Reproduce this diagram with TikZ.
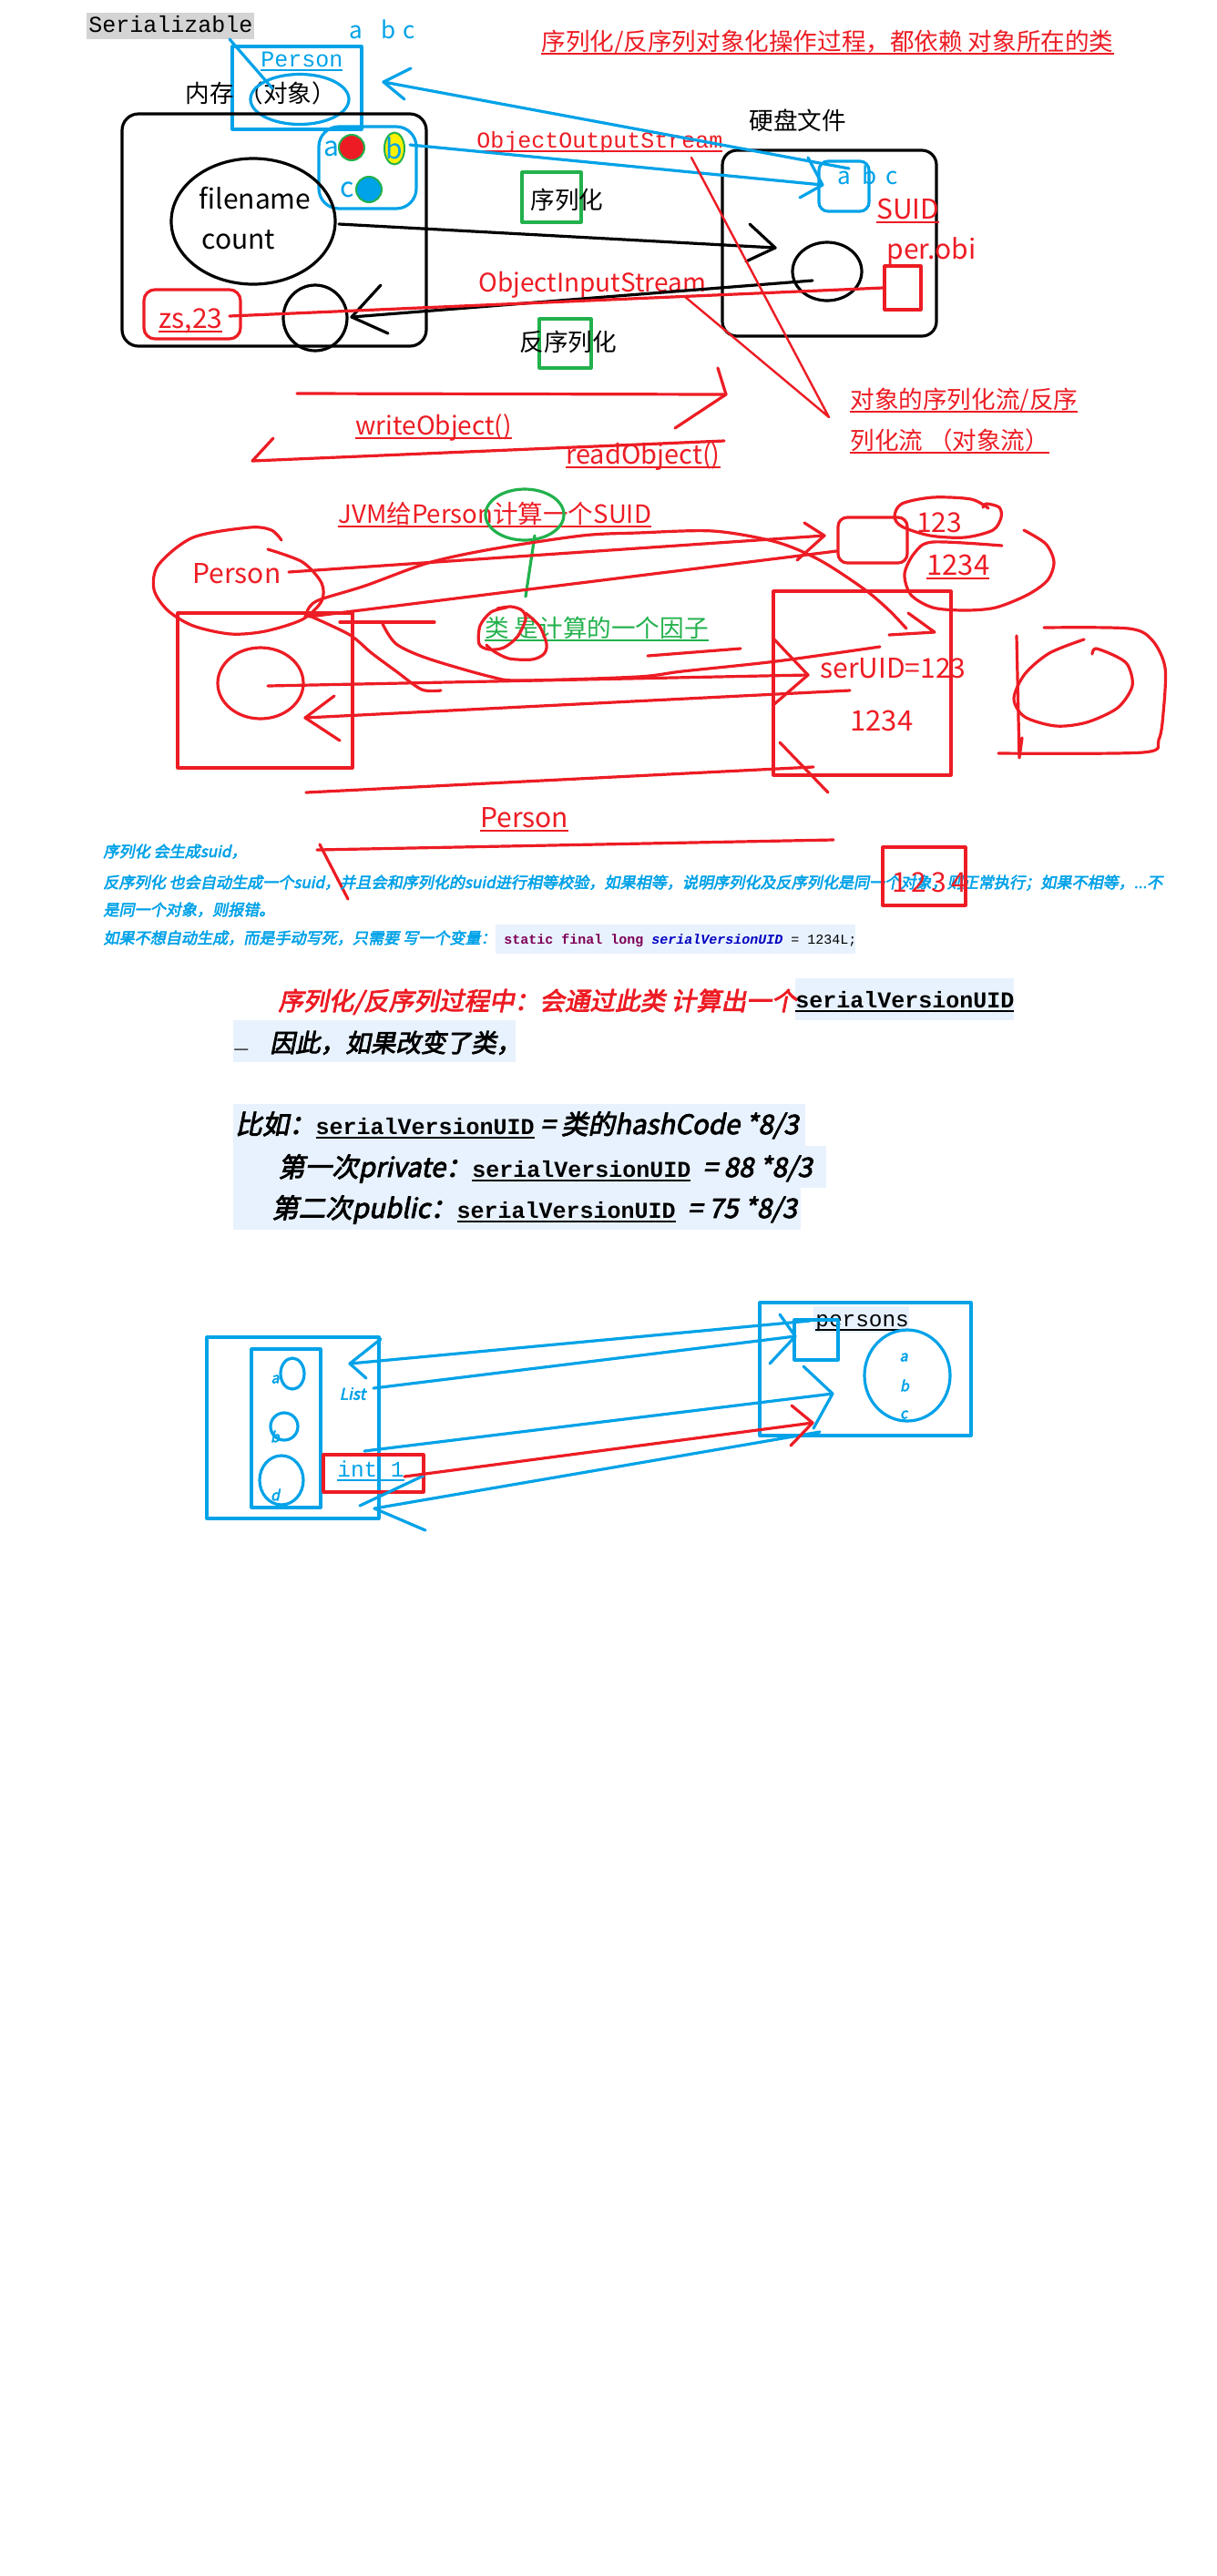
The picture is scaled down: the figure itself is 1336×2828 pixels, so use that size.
\documentclass[tikz,border=0pt]{standalone}
\usepackage{fontspec}
\setmainfont{Noto Sans CJK SC}[AutoFakeBold=3, AutoFakeSlant=0.2]
\setmonofont{Liberation Mono}
\definecolor{pred}{HTML}{ED1C24}
\definecolor{pblue}{HTML}{00A2E8}
\definecolor{pgreen}{HTML}{22B14C}
\definecolor{pyellow}{HTML}{FFF200}
\definecolor{hlblue}{HTML}{E8F2FE}
\definecolor{hlgray}{HTML}{D4D4D4}
\definecolor{kwpurple}{HTML}{7F0055}
\definecolor{fldblue}{HTML}{0000C0}
\newsavebox\ulbox
\newcommand\undl[1]{\sbox\ulbox{#1}\rlap{\rule[-2.5pt]{\wd\ulbox}{1.1pt}}\usebox\ulbox}
\newcommand\fs[1]{\fontsize{#1}{#1}\selectfont}
\newcommand\svuid{\undl{\ttfamily\upshape\fs{12.5}serialVersionUID}}

\begin{document}
\begin{tikzpicture}[x=0.5pt, y=-0.5pt, line cap=round, line join=round,
  pen/.style={line width=1.6pt},
  thinpen/.style={line width=1.2pt},
  sbox/.style={pen, inner sep=0pt},
  txt/.style={inner sep=0pt, anchor=base west},
  cjk/.style={font=\fs{13.3}},
  lat/.style={inner sep=0pt, font=\fs{15}},
  mono/.style={font=\ttfamily\fs{12.5}},
  note/.style={txt, text=pblue, font=\bfseries\itshape\fs{8.55}},
  big/.style={txt, font=\bfseries\itshape\fs{13.8}},
  eg/.style={txt, font=\bfseries\itshape\fs{14.7}},
  small/.style={inner sep=0pt, text=pblue, font=\bfseries\itshape\fs{8}}]
  \path[fill=white] (0,0) rectangle (1336,2828);
  \useasboundingbox (0,0) rectangle (1336,2828);

  % memory side
  \node[txt, mono, fill=hlgray, inner xsep=1pt, inner ysep=1pt, text height=9.5pt, text depth=3pt]
    (serial) at (95,35) {Serializable};
  \node[sbox, draw=pblue, minimum width=71pt, minimum height=45.5pt] (personbox) at (326,96.5) {};
  \node[txt, mono, text=pblue] (personlbl) at (286,73) {\undl{Person}};
  \node[txt, font=\fs{13}, text=pblue] (abctop) at (383,42) {a\hspace{10pt}b\hspace{4pt}c};
  \node[txt, cjk] (memlbl) at (203,112) {内存 （对象）};
  \draw[pen, pblue] (329,109) ellipse [x radius=54, y radius=27.5];
  \coordinate (serfoot) at (252,43);
  \coordinate (objin) at (299,97);
  \draw[pen, pblue] (serfoot) -- (objin);

  \node[sbox, draw, rounded corners=9pt, minimum width=167pt, minimum height=127.5pt] (mem) at (301,252.5) {};
  \node[sbox, draw=pblue, rounded corners=11pt, minimum width=53.5pt, minimum height=45pt] (fields) at (403.5,184) {};
  \node[lat, text=pblue] (fa) at (364,163) {a};
  \filldraw[line width=1pt, fill=pred, draw=pgreen] (386,162) circle [radius=14];
  \filldraw[line width=1pt, fill=pyellow, draw=pgreen] (433,163) ellipse [x radius=11, y radius=17.5];
  \node[lat, text=pblue] (fb) at (433,163) {b};
  \node[lat, text=pblue] (fc) at (381,208) {c};
  \filldraw[line width=1pt, fill=pblue, draw=pgreen] (405,208) circle [radius=14];

  \draw[pen] (278,243) ellipse [x radius=90, y radius=69];
  \node[lat] (fname) at (280,218) {filename};
  \node[lat] (fcount) at (262,263) {count};
  \node[sbox, draw=pred, rounded corners=6pt, minimum width=53pt, minimum height=27pt] (zsbox) at (211,345) {};
  \node[txt, font=\fs{15}, text=pred] (zslbl) at (174,360) {\undl{zs,23}};
  \draw[pen] (346,349) ellipse [x radius=35, y radius=36];

  % streams
  \node[txt, cjk, text=pred] (title) at (594,55) {\undl{序列化/反序列对象化操作过程，都依赖 对象所在的类}};
  \node[txt, mono, text=pred] (oos) at (523,162) {\undl{ObjectOutputStream}};
  \node[sbox, draw=pgreen, minimum width=32.5pt, minimum height=27.5pt] (serbox) at (605.5,216.5) {};
  \node[txt, cjk] (serlbl) at (582,229) {序列化};
  \node[txt, font=\fs{14}, text=pred] (ois) at (525,320) {ObjectInputStream};
  \node[sbox, draw=pgreen, minimum width=28.5pt, minimum height=27pt] (deserbox) at (620.5,377) {};
  \node[txt, cjk] (deserlbl) at (570,385) {反序列化};

  % disk side
  \node[txt, cjk] (disklbl) at (822,142) {硬盘文件};
  \node[sbox, draw, rounded corners=8pt, minimum width=117.5pt, minimum height=102pt] (disk) at (910.5,267) {};
  \node[sbox, draw=pblue, rounded corners=5pt, minimum width=27.5pt, minimum height=27.5pt] (suidbox) at (926.5,204.5) {};
  \node[txt, font=\fs{13}, text=pblue] (abcdisk) at (919,202) {a\hspace{6pt}b\hspace{5pt}c};
  \node[txt, font=\fs{15}, text=pred] (suidlbl) at (962,240) {\undl{SUID}};
  \draw[pen] (908,298) ellipse [x radius=38, y radius=32];
  \node[txt, font=\fs{15}, text=pred] (perobi) at (973,284) {per.obi};
  \node[sbox, draw=pred, minimum width=20pt, minimum height=24pt] (fileobj) at (991,316) {};

  \coordinate (bout) at (450,159);
  \coordinate (bin) at (903,203);
  \draw[pen, pblue] (bout) -- (bin);
  \draw[pen, pblue] (887,173) -- (bin) -- (878,217);
  \coordinate (abcout) at (932,185);
  \coordinate (personin) at (421,90);
  \draw[pen, pblue] (abcout) -- (personin);
  \draw[pen, pblue] (451,75) -- (personin) -- (444,109);
  \coordinate (fnout) at (372,246);
  \coordinate (diskin) at (851,272);
  \draw[pen] (fnout) -- (diskin);
  \draw[pen] (823,246) -- (diskin) -- (819,287);
  \coordinate (diskout) at (892,308);
  \coordinate (objback) at (386,348);
  \draw[pen] (diskout) -- (objback);
  \draw[pen] (418,313) -- (objback) -- (426,366);
  \coordinate (zsout) at (252,347);
  \draw[pen, pred] (zsout) -- (fileobj.west);

  \coordinate (notetip) at (910,458);
  \draw[thinpen, pred] (759,173) -- (notetip) -- (751,325);
  \node[txt, cjk, text=pred] (note1) at (933,448) {\undl{对象的序列化流/反序}};
  \node[txt, cjk, text=pred] (note2) at (933,493) {\undl{列化流 （对象流）}};

  \coordinate (wstart) at (326,432);
  \coordinate (wend) at (797,433);
  \draw[pen, pred] (wstart) -- (wend);
  \draw[pen, pred] (788,404) -- (wend) -- (741,470);
  \node[txt, font=\fs{14}, text=pred] (wobj) at (390,477) {\undl{writeObject()}};
  \coordinate (rstart) at (795,484);
  \coordinate (rend) at (277,506);
  \draw[pen, pred] (rstart) -- (rend) -- (300,481);
  \node[txt, font=\fs{14.5}, text=pred] (robj) at (621,509) {\undl{readObject()}};

  % suid computed from the class
  \node[txt, font=\fs{13.8}, text=pred] (jvm) at (371,574) {\undl{JVM给Person计算一个SUID}};
  \draw[pen, pgreen] (576,565) ellipse [x radius=43, y radius=28];
  \coordinate (factout) at (587,588);
  \coordinate (factin) at (577,655);
  \draw[pen, pgreen] (factout) -- (factin);
  \node[txt, cjk, text=pgreen] (factor) at (532,699) {\undl{类 是计算的一个因子}};
  \draw[pen, pred] plot[smooth] coordinates {(556,667) (539,672) (527,687) (526,707) (537,713)
    (553,711) (568,699) (577,680) (573,670) (561,666) (546,668)};
  \draw[pen, pred] plot[smooth] coordinates {(577,673) (592,687) (600,707) (597,718) (584,724)
    (559,723) (542,715) (534,708)};

  \draw[pen, pred] plot[smooth] coordinates {(309,593) (298,582) (274,579) (212,590) (174,620)
    (169,647) (184,670) (212,687) (253,696) (291,693) (332,680) (353,660) (353,640) (332,617) (294,603)};
  \node[lat, text=pred] (clsname) at (260,630) {Person};
  \node[sbox, draw=pred, minimum width=96pt, minimum height=85pt] (personsq) at (291,758) {};
  \draw[pen, pred] (286,750) ellipse [x radius=47, y radius=39];

  \node[sbox, draw=pred, rounded corners=5pt, minimum width=38pt, minimum height=25pt] (uidtmp) at (958,593) {};
  \draw[pen, pred] plot[smooth] coordinates {(1085,558) (1066,548) (1024,546) (990,553) (982,567)
    (990,578) (1021,588) (1059,590) (1090,582) (1099,568) (1097,557) (1083,553) (1079,557)};
  \node[lat, text=pred] (uid123) at (1031,574) {123};
  \draw[pen, pred] plot[smooth] coordinates {(1100,599) (1024,595) (1004,607) (993,630) (1000,653)
    (1024,667) (1059,670) (1093,667) (1128,653) (1150,637) (1157,617) (1148,597) (1124,582)};
  \node[txt, font=\fs{15.5}, text=pred] (uid1234) at (1017,631) {\undl{1234}};
  \node[sbox, draw=pred, minimum width=97.5pt, minimum height=101pt] (classbox) at (946.5,750) {};
  \node[txt, font=\fs{15}, text=pred] (seruid) at (900,744) {serUID=123};
  \node[txt, font=\fs{15.5}, text=pred] (newuid) at (933,802) {1234};

  \coordinate (ain) at (905,588);
  \draw[pen, pred] (317,628) -- (ain);
  \draw[pen, pred] (883,574) -- (ain) -- (875,615);
  \draw[pen, pred] plot[smooth] coordinates {(335,677) (340,666) (352,658) (401,643) (470,618)
    (539,603) (639,588) (700,585) (783,583) (852,595) (900,615) (949,647) (976,670) (995,690)};
  \draw[pen, pred] (976,697) -- (1026,694) -- (997,673);
  \draw[pen, pred] (339,677) -- (uidtmp.west |- 0,605);
  \draw[pen, pred] (373,683) -- (477,683);
  \draw[pen, pred] plot[smooth] coordinates {(342,677) (384,697) (408,717) (435,737) (463,757) (484,758)};
  \draw[pen, pred] plot[smooth] coordinates {(420,685) (435,707) (470,723) (539,743) (573,747)
    (700,743) (749,737) (852,726) (966,710)};
  \coordinate (din) at (887,741);
  \draw[pen, pred] (294,753) -- (din);
  \draw[pen, pred] (850,702) -- (din) -- (850,773);
  \coordinate (eout) at (933,758);
  \coordinate (ein) at (335,788);
  \draw[pen, pred] (eout) -- (ein);
  \draw[pen, pred] (367,764) -- (ein) -- (373,813);
  \draw[pen, pred] (711,720) -- (813,712);
  \draw[pen, pred] (336,870) -- (893,842);
  \draw[pen, pred] (856,815) -- (909,870);

  \draw[pen, pred] plot[smooth] coordinates {(1146,689) (1239,690) (1265,703) (1279,733) (1277,783)
    (1272,812) (1255,826) (1096,827)};
  \draw[pen, pred] (1116,698) -- (1119,832) -- (1122,810);
  \draw[pen, pred] plot[smooth] coordinates {(1190,702) (1152,717) (1125,740) (1113,767) (1125,787)
    (1159,797) (1193,793) (1227,777) (1243,753) (1238,730) (1224,720) (1203,712) (1199,718)};

  % notes
  \node[txt, font=\fs{15}, text=pred] (cls2) at (527,908) {\undl{Person}};
  \draw[pen, pred] (348,933) -- (915,922);
  \draw[pen, pred] (351,927) -- (382,987);
  \node[note] (n1) at (113,941) {序列化 会生成suid，};
  \node[note] (n2) at (113,975) {反序列化 也会自动生成一个suid，并且会和序列化的suid进行相等校验，如果相等，说明序列化及反序列化是同一个对象，则正常执行；如果不相等，...不};
  \node[note] (n3) at (113,1005) {是同一个对象，则报错。};
  \node[note] (n4) at (113,1036) {如果不想自动生成，而是手动写死，只需要 写一个变量：};
  \fill[hlblue] (544,1015) rectangle (939,1047);
  \node[txt, font=\ttfamily\fs{7.5}] (code) at (553,1036)
    {\textcolor{kwpurple}{\bfseries static final long} \textcolor{fldblue}{\bfseries\itshape serialVersionUID} = 1234L;};
  \node[sbox, draw=pred, minimum width=45.5pt, minimum height=32pt] (numbox) at (1014.5,962) {};
  \node[lat, text=pred] (num) at (1020,969) {1\,2\,3\,4};

  \fill[hlblue] (873,1074) rectangle (1113,1120);
  \fill[hlblue] (256,1120) rectangle (566,1166);
  \fill[hlblue] (256,1212) rectangle (884,1258);
  \fill[hlblue] (256,1258) rectangle (907,1304);
  \fill[hlblue] (256,1304) rectangle (879,1350);
  \node[big, text=pred] (rule) at (305,1109) {序列化/反序列过程中：会通过此类 计算出一个};
  \node[txt, font=\bfseries] (ruleuid) at (873,1106) {\svuid};
  \node[txt, font=\ttfamily\bfseries\fs{12.5}] (blank) at (257,1150) {\_};
  \node[big] (change) at (296,1155) {因此，如果改变了类，};
  \node[eg] (eg0) at (258,1245) {比如：\svuid{} = 类的hashCode *8/3};
  \node[eg] (eg1) at (305,1292) {第一次private：\svuid{}\ \ = 88 *8/3};
  \node[eg] (eg2) at (298,1337) {第二次public：\svuid{}\ \ = 75 *8/3};

  % list of persons
  \node[sbox, draw=pblue, minimum width=94.5pt, minimum height=99.5pt] (listbox) at (321.5,1567.5) {};
  \node[sbox, draw=pblue, minimum width=38pt, minimum height=87pt] (elembox) at (314,1568) {};
  \draw[pen, pblue] (321,1508) ellipse [x radius=13, y radius=17];
  \draw[pen, pblue] (312,1566) ellipse [x radius=15, y radius=15];
  \draw[pen, pblue] (309,1625) ellipse [x radius=24, y radius=27];
  \node[small] (ea) at (302,1514) {a};
  \node[small] (eb) at (302,1577) {b};
  \node[small] (ed) at (302,1641) {d};
  \node[small, font=\bfseries\itshape\fs{8.7}] (listlbl) at (387,1530) {List};
  \node[sbox, draw=pred, minimum width=55pt, minimum height=20.5pt] (intbox) at (410,1617.5) {};
  \node[txt, font=\ttfamily\fs{12.2}, text=pblue] (intlbl) at (370,1621) {\undl{int 1}};
  \node[sbox, draw=pblue, minimum width=116pt, minimum height=73pt] (persbox) at (950,1503) {};
  \fill[hlblue] (893,1434) rectangle (998,1463);
  \node[txt, font=\ttfamily\fs{12.2}] (perslbl) at (895,1456) {\undl{persons}};
  \node[sbox, draw=pblue, minimum width=24pt, minimum height=22pt] (refbox) at (896,1471) {};
  \draw[pen, pblue] (996,1510) ellipse [x radius=47, y radius=50];
  \node[small] (pa) at (992,1490) {a};
  \node[small] (pb) at (993,1521) {b};
  \node[small] (pc) at (992,1553) {c};

  \coordinate (refout) at (889,1450);
  \coordinate (listin) at (384,1497);
  \draw[pen, pblue] (refout) -- (listin);
  \draw[pen, pblue] (418,1470) -- (listin) -- (402,1513);
  \coordinate (listout) at (410,1524);
  \coordinate (refin) at (873,1467);
  \draw[pen, pblue] (listout) -- (refin);
  \draw[pen, pblue] (856,1443) -- (refin) -- (845,1497);
  \coordinate (elout) at (400,1593);
  \coordinate (elin) at (914,1530);
  \draw[pen, pblue] (elout) -- (elin);
  \draw[pen, pblue] (882,1500) -- (elin) -- (893,1568);
  \coordinate (backout) at (900,1572);
  \coordinate (backin) at (411,1656);
  \draw[pen, pblue] (backout) -- (backin);
  \draw[pen, pblue] (465,1620) -- (395,1653);
  \draw[pen, pblue] (backin) -- (467,1680);
  \coordinate (intout) at (444,1621);
  \coordinate (intin) at (892,1562);
  \draw[pen, pred] (intout) -- (intin);
  \draw[pen, pred] (869,1543) -- (intin) -- (868,1587);
\end{tikzpicture}
\end{document}
